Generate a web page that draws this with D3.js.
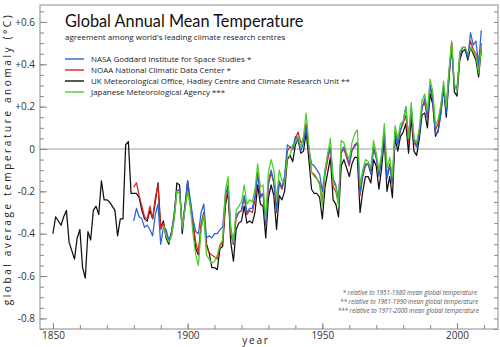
<!DOCTYPE html>
<html>
<head>
<meta charset="utf-8">
<script src="https://cdn.jsdelivr.net/npm/d3@7"></script>
<style>
  html, body { margin: 0; padding: 0; background: #fff; }
  svg { display: block; font-family: "Open Sans", sans-serif; }
  .axis path { display: none; }
  .axis line { stroke: #888; }
  .axis text { fill: #333; font-size: 10px; font-family: "Open Sans", sans-serif; }
  .series { fill: none; stroke-width: 1.25px; stroke-linejoin: round; }
</style>
</head>
<body>
<svg id="chart" width="500" height="347"></svg>
<script>
// HadCRUT (black) runs from 1850, NASA/NOAA from 1880, JMA from 1891
const hadleyStart = 1850;
const hadley = [
  -0.40, -0.32, -0.34, -0.36, -0.32, -0.29, -0.44, -0.48, -0.52, -0.42,
  -0.38, -0.56, -0.61, -0.39, -0.43, -0.29, -0.27, -0.31, -0.15, -0.24,
  -0.24, -0.25, -0.27, -0.29, -0.41, -0.33, -0.33, 0.02, 0.035, -0.21,
  -0.21, -0.21, -0.23, -0.29, -0.33, -0.34, -0.29, -0.33, -0.25, -0.16,
  -0.37, -0.34, -0.42, -0.45, -0.39, -0.32, -0.16, -0.17, -0.40, -0.27,
  -0.15, -0.27, -0.36, -0.47, -0.50, -0.37, -0.30, -0.45, -0.49, -0.56,
  -0.56, -0.57, -0.47, -0.46, -0.27, -0.20, -0.44, -0.53, -0.38, -0.35,
  -0.34, -0.27, -0.35, -0.34, -0.35, -0.30, -0.17, -0.26, -0.27, -0.42,
  -0.23, -0.17, -0.22, -0.38, -0.22, -0.24, -0.20, -0.05, -0.03, -0.06,
  0.02, 0.05, -0.02, -0.01, 0.08, -0.05, -0.19, -0.21, -0.21, -0.23,
  -0.33, -0.18, -0.11, -0.04, -0.24, -0.26, -0.32, -0.08, -0.05, -0.09,
  -0.13, -0.07, -0.04, -0.04, -0.30, -0.20, -0.13, -0.13, -0.16, -0.05,
  -0.08, -0.19, -0.09, 0.05, -0.20, -0.13, -0.23, 0.05, -0.01, 0.06,
  0.08, 0.12, -0.02, 0.15, -0.01, -0.03, 0.05, 0.16, 0.17, 0.10,
  0.26, 0.21, 0.06, 0.09, 0.17, 0.29, 0.15, 0.33, 0.50, 0.27,
  0.25, 0.42, 0.46, 0.47, 0.42, 0.48, 0.45, 0.42, 0.34, 0.47
];

const noaaStart = 1880;
const noaa = [
  -0.18, -0.16, -0.22, -0.27, -0.32, -0.33, -0.27, -0.33, -0.23, -0.17,
  -0.38, -0.35, -0.40, -0.43, -0.41, -0.33, -0.20, -0.19, -0.36, -0.27,
  -0.19, -0.25, -0.35, -0.44, -0.49, -0.35, -0.30, -0.46, -0.49, -0.50,
  -0.51, -0.52, -0.46, -0.44, -0.25, -0.19, -0.40, -0.45, -0.33, -0.30,
  -0.29, -0.23, -0.31, -0.29, -0.30, -0.24, -0.11, -0.22, -0.21, -0.36,
  -0.17, -0.11, -0.16, -0.30, -0.16, -0.19, -0.14, -0.01, 0.01, 0.00,
  0.05, 0.08, 0.03, 0.04, 0.12, -0.01, -0.11, -0.12, -0.14, -0.16,
  -0.25, -0.12, -0.05, 0.01, -0.18, -0.20, -0.26, -0.02, 0.00, -0.04,
  -0.08, -0.01, 0.02, 0.03, -0.22, -0.13, -0.08, -0.07, -0.11, 0.01,
  -0.04, -0.13, -0.04, 0.08, -0.13, -0.07, -0.17, 0.08, 0.03, 0.09,
  0.12, 0.16, 0.03, 0.18, 0.03, 0.01, 0.08, 0.20, 0.22, 0.14,
  0.30, 0.24, 0.09, 0.12, 0.20, 0.30, 0.19, 0.36, 0.50, 0.30,
  0.28, 0.44, 0.48, 0.48, 0.44, 0.51, 0.47, 0.45, 0.38, 0.50
];

const nasaStart = 1880;
const nasa = [
  -0.34, -0.28, -0.32, -0.33, -0.37, -0.36, -0.38, -0.41, -0.31, -0.26,
  -0.45, -0.37, -0.38, -0.43, -0.40, -0.30, -0.20, -0.19, -0.38, -0.28,
  -0.15, -0.24, -0.33, -0.39, -0.40, -0.30, -0.26, -0.42, -0.41, -0.42,
  -0.40, -0.40, -0.38, -0.37, -0.22, -0.17, -0.37, -0.45, -0.31, -0.30,
  -0.29, -0.22, -0.30, -0.28, -0.28, -0.22, -0.12, -0.23, -0.21, -0.36,
  -0.15, -0.10, -0.16, -0.29, -0.15, -0.18, -0.13, 0.02, 0.01, 0.00,
  0.06, 0.04, -0.01, 0.03, 0.10, 0.00, -0.07, -0.08, -0.10, -0.12,
  -0.20, -0.10, -0.03, 0.01, -0.14, -0.17, -0.24, -0.01, 0.01, -0.03,
  -0.07, 0.00, 0.01, 0.03, -0.21, -0.12, -0.07, -0.07, -0.12, 0.00,
  -0.04, -0.12, -0.05, 0.08, -0.14, -0.08, -0.16, 0.08, 0.02, 0.09,
  0.13, 0.20, 0.05, 0.20, 0.05, 0.01, 0.07, 0.19, 0.24, 0.15,
  0.30, 0.23, 0.07, 0.08, 0.17, 0.30, 0.17, 0.35, 0.47, 0.30,
  0.29, 0.43, 0.48, 0.48, 0.43, 0.55, 0.49, 0.51, 0.40, 0.56
];

const jmaStart = 1891;
const jma = [
  -0.36, -0.41, -0.44, -0.41, -0.33, -0.20, -0.21, -0.37, -0.29,
  -0.20, -0.27, -0.40, -0.50, -0.55, -0.38, -0.31, -0.50, -0.52, -0.54,
  -0.53, -0.50, -0.45, -0.43, -0.20, -0.13, -0.38, -0.44, -0.29, -0.27,
  -0.25, -0.17, -0.26, -0.24, -0.25, -0.19, -0.07, -0.18, -0.17, -0.33,
  -0.11, -0.05, -0.10, -0.24, -0.10, -0.15, -0.16, -0.04, -0.03, 0.02,
  0.03, 0.06, 0.01, 0.06, 0.17, 0.02, -0.11, -0.13, -0.14, -0.17,
  -0.27, -0.10, -0.02, 0.05, -0.16, -0.18, -0.27, 0.04, 0.03, -0.02,
  -0.05, 0.03, 0.07, 0.09, -0.17, -0.10, -0.05, -0.06, -0.09, 0.04,
  -0.02, -0.10, -0.02, 0.12, -0.09, -0.04, -0.13, 0.11, 0.05, 0.12,
  0.13, 0.20, 0.05, 0.22, 0.05, 0.03, 0.10, 0.23, 0.26, 0.18,
  0.33, 0.27, 0.11, 0.14, 0.21, 0.32, 0.20, 0.37, 0.51, 0.31,
  0.27, 0.46, 0.48, 0.48, 0.45, 0.48, 0.46, 0.44, 0.36, 0.48
];

const legendLabels = [
  "NASA Goddard Institute for Space Studies *",
  "NOAA National Climatic Data Center *",
  "UK Meteorological Office, Hadley Centre and Climate Research Unit **",
  "Japanese Meteorological Agency ***"
];
const legendColors = ["#2a63d3", "#e2231c", "#111111", "#4ccc2a"];

const footnotes = [
  "* relative to 1951-1980 mean global temperature",
  "** relative to 1961-1990 mean global temperature",
  "*** relative to 1971-2000 mean global temperature"
];

const yMajor = [0.6, 0.4, 0.2, 0, -0.2, -0.4, -0.6, -0.8];
const xMajor = [1850, 1900, 1950, 2000];

const svg = d3.select('#chart');
const plotLeft = 40, plotRight = 498, plotTop = 5, plotBottom = 329;

const x = d3.scaleLinear().domain([1845.2, 2015.2]).range([plotLeft, plotRight]);
const y = d3.scaleLinear().domain([-0.85, 0.68]).range([plotBottom, plotTop]);

// frame
svg.append('rect')
  .attr('x', plotLeft).attr('y', plotTop)
  .attr('width', plotRight - plotLeft).attr('height', plotBottom - plotTop)
  .attr('fill', 'none').attr('stroke', '#8a8a8a').attr('stroke-width', 1);

// zero line
svg.append('line')
  .attr('x1', plotLeft).attr('x2', plotRight)
  .attr('y1', y(0)).attr('y2', y(0))
  .attr('stroke', '#9a9a9a').attr('stroke-width', 1);

const minorY = d3.range(-0.85, 0.66, 0.05).map(v => Math.round(v * 100) / 100);
const fmtY = d => d === 0 ? '0' : (d > 0 ? '+' : '-') + Math.abs(d).toFixed(1);

// left axis: minor ticks, then labelled major ticks
svg.append('g').attr('class', 'axis')
  .attr('transform', `translate(${plotLeft},0)`)
  .call(d3.axisLeft(y).tickValues(minorY).tickSize(-4).tickFormat(''));
svg.append('g').attr('class', 'axis')
  .attr('transform', `translate(${plotLeft},0)`)
  .call(d3.axisLeft(y).tickValues(yMajor).tickSize(-7).tickPadding(5).tickFormat(fmtY));

// right axis ticks
svg.append('g').attr('class', 'axis')
  .attr('transform', `translate(${plotRight},0)`)
  .call(d3.axisRight(y).tickValues(minorY).tickSize(-4).tickFormat(''));

// bottom axis
svg.append('g').attr('class', 'axis')
  .attr('transform', `translate(0,${plotBottom})`)
  .call(d3.axisBottom(x).tickValues(d3.range(1850, 2011, 10)).tickSize(-4).tickFormat(''));
svg.append('g').attr('class', 'axis')
  .attr('transform', `translate(0,${plotBottom})`)
  .call(d3.axisBottom(x).tickValues(xMajor).tickSize(-6).tickPadding(5).tickFormat(d3.format('d')))
  .selectAll('text').attr('dy', '0.45em');

// axis titles
svg.append('text')
  .attr('transform', `translate(11,${(plotTop + plotBottom) / 2 - 8}) rotate(-90)`)
  .attr('text-anchor', 'middle')
  .attr('font-size', 10)
  .attr('letter-spacing', 2.6)
  .attr('fill', '#222')
  .text('global average temperature anomaly (°C)');

svg.append('text')
  .attr('x', 256).attr('y', 344)
  .attr('text-anchor', 'middle')
  .attr('font-size', 10)
  .attr('letter-spacing', 1.8)
  .attr('fill', '#222')
  .text('year');

// series
const toPoints = (start, values) => values.map((v, i) => [start + i, v]);
const line = d3.line().x(d => x(d[0])).y(d => y(d[1]));
const series = [
  { data: toPoints(hadleyStart, hadley), color: legendColors[2] },
  { data: toPoints(noaaStart, noaa), color: legendColors[1] },
  { data: toPoints(nasaStart, nasa), color: legendColors[0] },
  { data: toPoints(jmaStart, jma), color: legendColors[3] }
];
svg.append('g').selectAll('path')
  .data(series)
  .join('path')
  .attr('class', 'series')
  .attr('stroke', d => d.color)
  .attr('d', d => line(d.data));

// title block
svg.append('text')
  .attr('x', 65).attr('y', 27)
  .attr('font-family', 'Lato, sans-serif')
  .attr('font-size', 16.3)
  .attr('fill', '#111')
  .text('Global Annual Mean Temperature');
svg.append('text')
  .attr('x', 65).attr('y', 40)
  .attr('font-size', 8)
  .attr('fill', '#222')
  .text("agreement among world's leading climate research centres");

const legend = svg.append('g').selectAll('g')
  .data(legendLabels)
  .join('g')
  .attr('transform', (d, i) => `translate(65,${59 + i * 11})`);
legend.append('line')
  .attr('x1', 0).attr('x2', 19)
  .attr('stroke', (d, i) => legendColors[i])
  .attr('stroke-width', 1.4);
legend.append('text')
  .attr('x', 26).attr('y', 3)
  .attr('font-size', 7.95)
  .attr('fill', '#222')
  .text(d => d);

// baseline notes
svg.append('g').selectAll('text')
  .data(footnotes)
  .join('text')
  .attr('x', (d, i) => 477 + i)
  .attr('y', (d, i) => 295 + i * 9)
  .attr('text-anchor', 'end')
  .attr('font-size', 6.2)
  .attr('font-style', 'italic')
  .attr('fill', '#555')
  .text(d => d);
</script>
</body>
</html>
